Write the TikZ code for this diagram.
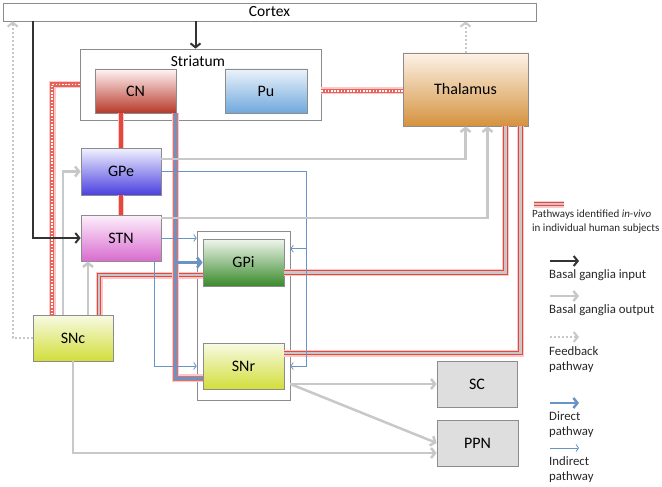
\documentclass[tikz,border=0pt]{standalone}
\usepackage{fontspec}
\setmainfont{Carlito}
\usetikzlibrary{arrows.meta, shadows}

\definecolor{dirblue}{HTML}{6A93C6}
\definecolor{outgray}{HTML}{C8C8C8}
\definecolor{inblack}{HTML}{333333}
\definecolor{boxgray}{HTML}{8C8C8C}
\definecolor{vivored}{HTML}{E2483E}

\begin{document}
\begin{tikzpicture}[x=1pt, y=-1pt]
    \useasboundingbox (0,0) rectangle (662,487);

    \tikzset{box/.style={draw=boxgray, line width=0.7pt, inner sep=0pt,
        font=\fontsize{16}{19}\selectfont,
        drop shadow={shadow xshift=0.8pt, shadow yshift=-0.8pt, opacity=0.3}}}
    \tikzset{size/.style 2 args={minimum width=#1, minimum height=#2}}
    \tikzset{frame/.style={draw=boxgray, line width=0.7pt, fill=white, inner sep=0pt,
        drop shadow={shadow xshift=0.8pt, shadow yshift=-0.8pt, opacity=0.2}}}

    % areas
    \node (cortex) at (269.5,12) [frame, size={533}{18}, font=\fontsize{15.5}{17}\selectfont] {Cortex};
    \node (striatum) at (200.5,84.5) [frame, size={241}{71}] {};
    \node (striatum label) at (198,61) [font=\fontsize{15.5}{17}\selectfont] {Striatum};
    \node (bgbox) at (243.5,315.5) [frame, size={93}{169}] {};

    % nuclei
    \node (cn) at (135.5,91) [box, size={81}{44}, top color=red!4, bottom color={rgb,255:red,184;green,56;blue,42}] {CN};
    \node (pu) at (266,91) [box, size={82}{44}, top color={rgb,255:red,236;green,243;blue,251}, bottom color={rgb,255:red,111;green,168;blue,220}] {Pu};
    \node (thalamus) at (465.5,89.5) [box, size={125}{73}, top color={rgb,255:red,253;green,243;blue,232}, bottom color={rgb,255:red,212;green,146;blue,62}] {Thalamus};
    \node (gpe) at (121,171.5) [box, size={80}{47}, top color={rgb,255:red,242;green,242;blue,255}, bottom color={rgb,255:red,74;green,64;blue,224}] {GPe};
    \node (stn) at (121,238) [box, size={80}{46}, top color={rgb,255:red,253;green,240;blue,252}, bottom color={rgb,255:red,216;green,108;blue,207}] {STN};
    \node (gpi) at (243.5,262.5) [box, size={81}{47}, top color={rgb,255:red,240;green,246;blue,238}, bottom color={rgb,255:red,58;green,138;blue,44}] {GPi};
    \node (snr) at (243.5,366) [box, size={81}{46}, top color={rgb,255:red,248;green,250;blue,228}, bottom color={rgb,255:red,210;green,222;blue,58}] {SNr};
    \node (snc) at (73,338) [box, size={80}{46}, top color={rgb,255:red,248;green,250;blue,228}, bottom color={rgb,255:red,210;green,222;blue,58}] {SNc};
    \node (sc) at (477,384) [box, size={80}{46}, fill={rgb,255:red,222;green,222;blue,222}] {SC};
    \node (ppn) at (477.5,443) [box, size={81}{46}, fill={rgb,255:red,222;green,222;blue,222}] {PPN};

    % pathway styles
    \tikzset{invivo/.style={preaction={draw=red!22, line width=7pt}, draw=vivored, line width=4.8pt,
        postaction={draw=outgray, line width=2.4pt}}}
    \tikzset{invivo dot/.style={preaction={draw=red!22, line width=7pt}, draw=vivored!85, line width=4.8pt,
        postaction={draw=white, line width=1.6pt, dash pattern=on 1.6pt off 1.6pt}}}
    \tikzset{invivo solid/.style={preaction={draw=red!22, line width=6.5pt}, draw=vivored, line width=4pt}}
    \tikzset{direct vivo/.style={preaction={draw=red!22, line width=7.5pt},
        preaction={draw=vivored!80, line width=5pt}, draw=dirblue, line width=3pt}}
    \tikzset{direct/.style={draw=dirblue, line width=2.5pt, -{Straight Barb[length=4pt, width=10pt]}}}
    \tikzset{indirect/.style={draw=dirblue, line width=0.8pt, -{Straight Barb[length=2.5pt, width=7pt]}}}
    \tikzset{output/.style={draw=outgray, line width=2.5pt, -{Straight Barb[length=4pt, width=10pt]}}}
    \tikzset{input/.style={draw=inblack, line width=2pt, -{Straight Barb[length=4pt, width=10pt]}}}
    \tikzset{feedback/.style={draw=outgray, line width=2pt, dash pattern=on 2pt off 2pt,
        -{Straight Barb[length=4pt, width=10pt]}}}

    % turning points
    \path (cn.south) ++(40,0) coordinate (direct top);
    \path (snr.west) ++(0,12) coordinate (direct end);
    \path (stn.south) ++(33,0) coordinate (ind drop);
    \path (snr.east -| bgbox.east) ++(16,0) coordinate (ind corner);
    \path (ind corner |- gpi.north) ++(0,10) coordinate (ind branch);
    \path (snc.north) ++(15,0) coordinate (snc up);
    \path (snc.north) ++(-10,0) coordinate (snc gpe);
    \path (snc.north) ++(26,0) coordinate (snc gpi);
    \path (snc.north) ++(-21,0) coordinate (snc cn);
    \path (gpi.west) ++(0,12.5) coordinate (gpi in);
    \path (gpi.east) ++(0,10) coordinate (gpi out);
    \path (snr.east) ++(0,-13) coordinate (snr out);
    \path (thalamus.south) ++(22,0) coordinate (thal stn);
    \path (thalamus.south) ++(40,0) coordinate (thal gpi);
    \path (thalamus.south) ++(55,0) coordinate (thal snr);
    \path (gpe.east) ++(0,-12.5) coordinate (gpe out);
    \path (stn.east) ++(0,-20) coordinate (stn out);
    \path (ppn.west) ++(0,10) coordinate (ppn low);
    \path (striatum.north) ++(-5,0) coordinate (striatum in);
    \path (snc.west) ++(-20,0) coordinate (fb turn);

    % in-vivo pathways
    \draw[invivo solid] (cn.south -| gpe.north) -- (gpe.north);
    \draw[invivo solid] (gpe.south) -- (stn.north);
    \draw[invivo dot] (striatum.west) -| (snc cn);
    \draw[invivo dot] (striatum.east |- pu.east) -- (pu.east -| thalamus.west);
    \draw[invivo] (snc gpi) |- (gpi in);
    \draw[invivo] (gpi out) -| (thal gpi);
    \draw[invivo] (snr out) -| (thal snr);

    % direct pathway
    \draw[direct vivo] (direct top) |- (direct end);
    \draw[direct] (direct top |- gpi.west) -- (gpi.west);

    % indirect pathway
    \draw[indirect] (stn.east) -- (stn.east -| bgbox.west);
    \draw[indirect] (ind drop) |- (bgbox.west |- snr.west);
    \draw[indirect] (gpe.east) -| (ind corner) -- (ind corner -| bgbox.east);
    \draw[indirect] (ind branch) -- (ind branch -| bgbox.east);

    % basal ganglia output
    \draw[output] (gpe out) -| (thalamus.south);
    \draw[output] (stn out) -| (thal stn);
    \draw[output] (snc gpe) |- (gpe.west);
    \draw[output] (snc up) -- (snc up |- stn.south);
    \draw[output] (bgbox.east |- sc.west) -- (sc.west);
    \draw[output] (bgbox.east |- sc.west) -- (ppn.west);
    \draw[output] (snc.south) |- (ppn low);

    % basal ganglia input
    \draw[input] (striatum in |- cortex.south) -- (striatum in);
    \draw[input] (cortex.south -| snc.west) |- (stn.west);

    % feedback
    \draw[feedback] (thalamus.north) -- (thalamus.north |- cortex.south);
    \draw[feedback] (snc.west) -- (fb turn) -- (fb turn |- cortex.south);

    % legend
    \tikzset{legend/.style={anchor=west, align=left, inner sep=0pt, text=black!85, font=\fontsize{12.8}{15}\selectfont}}
    \coordinate (lg vivo a) at (534,204);
    \coordinate (lg vivo b) at (564,204);
    \coordinate (lg in a) at (550,261);
    \coordinate (lg in b) at (579,261);
    \coordinate (lg out a) at (550,296);
    \coordinate (lg out b) at (579,296);
    \coordinate (lg fb a) at (550,337);
    \coordinate (lg fb b) at (579,337);
    \coordinate (lg dir a) at (550,403);
    \coordinate (lg dir b) at (579,403);
    \coordinate (lg ind a) at (550,448);
    \coordinate (lg ind b) at (579,448);

    \draw[invivo] (lg vivo a) -- (lg vivo b);
    \draw[input] (lg in a) -- (lg in b);
    \draw[output] (lg out a) -- (lg out b);
    \draw[feedback] (lg fb a) -- (lg fb b);
    \draw[direct] (lg dir a) -- (lg dir b);
    \draw[indirect] (lg ind a) -- (lg ind b);

    \node (lg vivo text) at (532,221.5) [legend, font=\fontsize{11}{13.5}\selectfont] {Pathways identified \textit{in-vivo}\\in individual human subjects};
    \node (lg in text) at (549,275) [legend] {Basal ganglia input};
    \node (lg out text) at (549,310) [legend] {Basal ganglia output};
    \node (lg fb text) at (549,359.5) [legend] {Feedback\\pathway};
    \node (lg dir text) at (549,424.5) [legend] {Direct\\pathway};
    \node (lg ind text) at (549,469.5) [legend] {Indirect\\pathway};

\end{tikzpicture}
\end{document}
